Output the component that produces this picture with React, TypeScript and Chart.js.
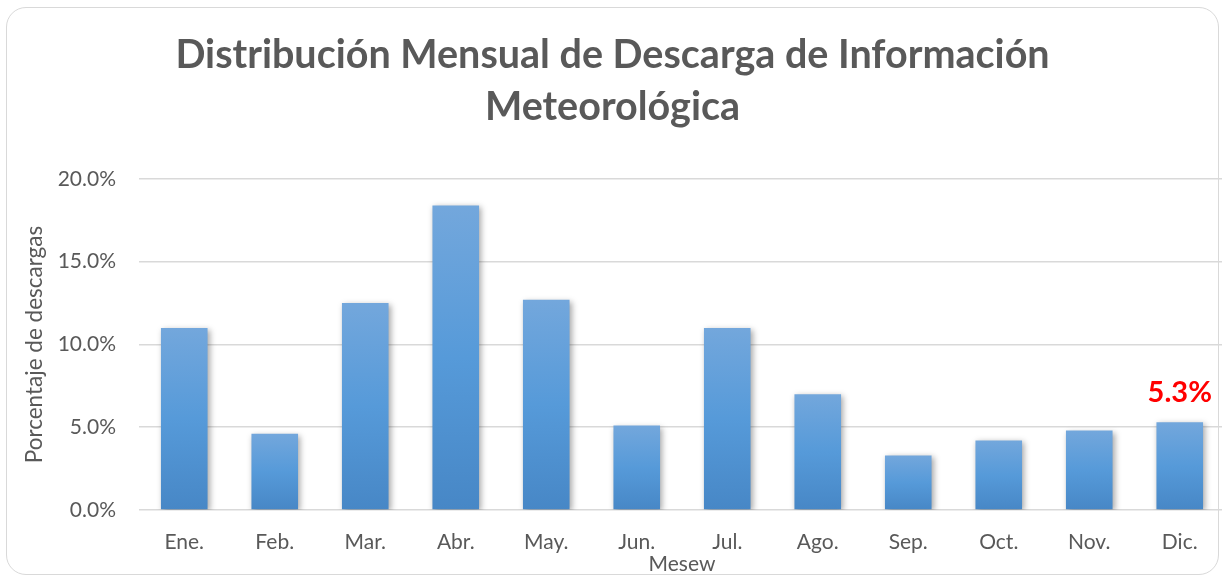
import React, { useEffect, useRef } from "react";
import { Chart, registerables } from "chart.js";

Chart.register(...registerables);

const months = ["Ene.", "Feb.", "Mar.", "Abr.", "May.", "Jun.", "Jul.", "Ago.", "Sep.", "Oct.", "Nov.", "Dic."];
const percentages = [11.0, 4.6, 12.5, 18.4, 12.7, 5.1, 11.0, 7.0, 3.3, 4.2, 4.8, 5.3];
const titleLines = ["Distribución Mensual de Descarga de Información", "Meteorológica"];
const yAxisTitle = "Porcentaje de descargas";
const xAxisTitle = "Mesew";
const highlightIndex = 11;

const TEXT = "#595959";
const FONT = "Lato, 'Open Sans', sans-serif";

const shadowPlugin = {
  id: "barShadow",
  beforeDatasetsDraw(chart: any) {
    const ctx = chart.ctx;
    ctx.save();
    ctx.shadowColor = "rgba(0,0,0,0.35)";
    ctx.shadowBlur = 6;
    ctx.shadowOffsetX = 2;
    ctx.shadowOffsetY = 2;
  },
  afterDatasetsDraw(chart: any) {
    chart.ctx.restore();
  },
};

const highlightLabelPlugin = {
  id: "highlightLabel",
  afterDatasetsDraw(chart: any) {
    const meta = chart.getDatasetMeta(0);
    const el = meta.data[highlightIndex];
    if (!el) return;
    const v = chart.data.datasets[0].data[highlightIndex] as number;
    const ctx = chart.ctx;
    ctx.save();
    ctx.font = `bold 29px ${FONT}`;
    ctx.fillStyle = "#ff0000";
    ctx.textAlign = "center";
    ctx.textBaseline = "middle";
    ctx.fillText(`${v.toFixed(1)}%`, el.x, el.y - 30);
    ctx.restore();
  },
};

export default function App() {
  const ref = useRef<HTMLCanvasElement | null>(null);

  useEffect(() => {
    document.body.style.margin = "0";
    if (!ref.current) return;
    const chart = new Chart(ref.current, {
      type: "bar",
      data: {
        labels: months,
        datasets: [
          {
            data: percentages,
            backgroundColor: (c: any) => {
              const ch = c.chart;
              const { chartArea, scales } = ch;
              if (!chartArea || c.type !== "data" || !scales.y) return "#5b9bd5";
              const top = scales.y.getPixelForValue(c.raw);
              const bottom = scales.y.getPixelForValue(0);
              const g = ch.ctx.createLinearGradient(0, top, 0, bottom);
              g.addColorStop(0, "#73a7dc");
              g.addColorStop(0.5, "#569ad9");
              g.addColorStop(1, "#4787c6");
              return g;
            },
            borderWidth: 0,
            categoryPercentage: 1,
            barPercentage: 0.515,
          },
        ],
      },
      options: {
        responsive: false,
        animation: false,
        devicePixelRatio: 1,
        layout: { padding: { left: 0, right: 1, top: 0, bottom: 0 } },
        plugins: {
          legend: { display: false },
          tooltip: { enabled: false },
          title: {
            display: true,
            text: titleLines,
            color: TEXT,
            font: { family: FONT, size: 39.5, weight: "bold", lineHeight: 1.316 },
            padding: { top: 29, bottom: 46 },
          },
        },
        scales: {
          x: {
            afterFit: (s: any) => {
              s.height = 67;
            },
            grid: { display: false, drawTicks: false },
            border: { display: false },
            ticks: {
              color: TEXT,
              font: { family: FONT, size: 21 },
              padding: 20,
              maxRotation: 0,
            },
            title: {
              display: true,
              text: xAxisTitle,
              color: TEXT,
              font: { family: FONT, size: 21, lineHeight: 1.2 },
              padding: { top: 0, bottom: 0 },
            },
          },
          y: {
            min: 0,
            max: 20,
            afterFit: (s: any) => {
              s.width = 139;
            },
            grid: { color: "#d9d9d9", lineWidth: 1.5, drawTicks: false },
            border: { display: false },
            ticks: {
              stepSize: 5,
              color: TEXT,
              font: { family: FONT, size: 21 },
              padding: 23,
              callback: (v: any) => `${Number(v).toFixed(1)}%`,
            },
            title: {
              display: true,
              text: yAxisTitle,
              color: TEXT,
              font: { family: FONT, size: 22.5, lineHeight: 1.2 },
              padding: { top: 21, bottom: 0 },
            },
          },
        },
      },
      plugins: [shadowPlugin, highlightLabelPlugin],
    } as any);
    return () => chart.destroy();
  }, []);

  return (
    <div style={{ position: "relative", width: 1222, height: 577, overflow: "hidden", background: "#fff" }}>
      <div
        style={{
          position: "absolute",
          left: 6,
          top: 7,
          width: 1213,
          height: 568,
          border: "1.5px solid #d9d9d9",
          borderRadius: 20,
          boxSizing: "border-box",
        }}
      />
      <canvas ref={ref} width={1226} height={577} style={{ position: "absolute", left: 0, top: 0, width: 1226, height: 577, display: "block" }} />
    </div>
  );
}
